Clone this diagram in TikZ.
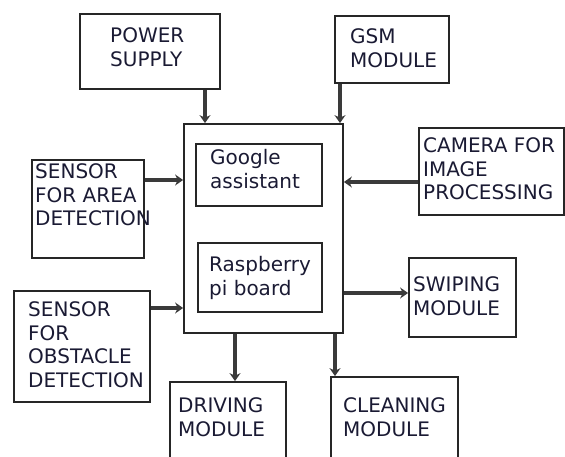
\documentclass[tikz,border=0pt]{standalone}
\usepackage{fontspec}
\setmainfont{DejaVu Sans}
\usetikzlibrary{arrows.meta}
\newcommand{\dfs}{\fontsize{20}{23.5}\selectfont}
\definecolor{arrgray}{HTML}{3A3A3A}
\definecolor{txtcol}{HTML}{1A1A33}
\tikzset{
  box/.style={draw=black!85, line width=1.8pt, rectangle, inner sep=0pt},
  txt/.style={anchor=north west, inner sep=0pt, align=left, font=\dfs, text=txtcol, execute at begin node=\strut},
  arr/.style={draw=arrgray, line width=3.2pt, -{Stealth[length=8pt,width=11pt]}},
}
\begin{document}
\begin{tikzpicture}[x=1pt,y=-1pt]
\useasboundingbox (0,0) rectangle (565,457);
\clip (0,0) rectangle (565,457);
% boxes
\node[box, minimum width=140pt, minimum height=75pt] (power) at (150,51.5) {};
\node[box, minimum width=114pt, minimum height=67pt] (gsm) at (392,49.5) {};
\node[box, minimum width=159pt, minimum height=209pt] (main) at (263.5,228.5) {};
\node[box, minimum width=126pt, minimum height=62pt] (google) at (259,175) {};
\node[box, minimum width=124pt, minimum height=69pt] (rasp) at (260,277.5) {};
\node[box, minimum width=112pt, minimum height=98pt] (area) at (88,209) {};
\node[box, minimum width=145pt, minimum height=87pt] (camera) at (491.5,171.5) {};
\node[box, minimum width=136pt, minimum height=111pt] (obst) at (82,346.5) {};
\node[box, minimum width=116pt, minimum height=88pt] (drive) at (228,426) {};
\node[box, minimum width=107pt, minimum height=79pt] (swipe) at (462.5,297.5) {};
\node[box, minimum width=127pt, minimum height=93pt] (clean) at (394.5,423.5) {};
% texts
\node[txt] (tpower) at (110,27.5) {POWER\\SUPPLY};
\node[txt] (tgsm) at (350,28.5) {GSM\\MODULE};
\node[txt] (tgoogle) at (210,149.5) {Google\\assistant};
\node[txt] (trasp) at (209,256.5) {Raspberry\\pi board};
\node[txt] (tarea) at (35,163.5) {SENSOR\\FOR AREA\\DETECTION};
\node[txt] (tcamera) at (423,137.5) {CAMERA FOR\\IMAGE\\PROCESSING};
\node[txt] (tobst) at (28,301.5) {SENSOR\\FOR\\OBSTACLE\\DETECTION};
\node[txt] (tdrive) at (178,397.5) {DRIVING\\MODULE};
\node[txt] (tclean) at (343,397.5) {CLEANING\\MODULE};
\node[txt] (tswipe) at (413,276.5) {SWIPING\\MODULE};
% arrows
\draw[arr] ([xshift=55pt]power.south) -- ([xshift=55pt]power.south |- main.north);
\draw[arr] ([xshift=-52pt]gsm.south) -- ([xshift=-52pt]gsm.south |- main.north);
\draw[arr] ([yshift=29pt]area.east) -- ([yshift=29pt]area.east -| main.west);
\draw[arr] ([yshift=-10.5pt]camera.west) -- ([yshift=-10.5pt]camera.west -| main.east);
\draw[arr] ([yshift=38.5pt]obst.east) -- ([yshift=38.5pt]obst.east -| main.west);
\draw[arr] ([yshift=4.5pt]swipe.west -| main.east) -- ([yshift=4.5pt]swipe.west);
\draw[arr] ([xshift=7pt]drive.north |- main.south) -- ([xshift=7pt]drive.north);
\draw[arr] ([xshift=-59.5pt]clean.north |- main.south) -- ([xshift=-59.5pt]clean.north);
\end{tikzpicture}
\end{document}
